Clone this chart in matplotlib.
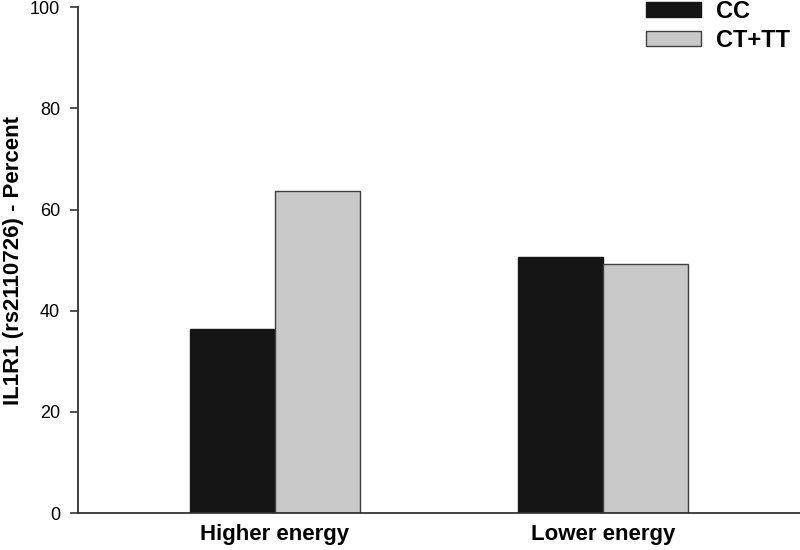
import numpy as np
import matplotlib.pyplot as plt

plt.rcParams['font.family'] = ['Liberation Sans', 'DejaVu Sans']

groups = ['Higher energy', 'Lower energy']
cc = [36.3, 50.7]
ct_tt = [63.7, 49.3]
yticks = [0, 20, 40, 60, 80, 100]

fig = plt.figure(figsize=(8, 5.5), dpi=100)
ax = fig.add_axes([0.0975, 0.067, 0.9025, 0.92])

x = np.arange(len(groups))
w = 0.26
ax.bar(x - w / 2, cc, w, color='#151515', edgecolor='#151515', linewidth=1, label='CC')
ax.bar(x + w / 2, ct_tt, w, color='#c8c8c8', edgecolor='#404040', linewidth=1, label='CT+TT')

ax.set_xlim(-0.6, 1.6)
ax.set_ylim(0, 100)
ax.set_yticks(yticks)
ax.set_xticks(x)
ax.set_xticklabels(groups, fontsize=16, fontweight='bold')
ax.tick_params(axis='x', length=0, pad=8)
ax.tick_params(axis='y', labelsize=13, length=6, width=1.2, color='#333333', pad=7)

for s in ['top', 'right']:
    ax.spines[s].set_visible(False)
for s in ['left', 'bottom']:
    ax.spines[s].set_color('#333333')
    ax.spines[s].set_linewidth(1.3)

ax.set_ylabel('IL1R1 (rs2110726) - Percent', fontsize=16, fontweight='bold')
ax.yaxis.set_label_coords(-0.075, 0.5)

leg = ax.legend(loc='upper right', bbox_to_anchor=(0.987, 1.0), bbox_transform=fig.transFigure,
                frameon=False, borderpad=0, borderaxespad=0,
                prop={'size': 17, 'weight': 'bold'}, handlelength=2.35, handleheight=0.62,
                handletextpad=0.6, labelspacing=0.24)

fig.savefig('out.png', dpi=100)
